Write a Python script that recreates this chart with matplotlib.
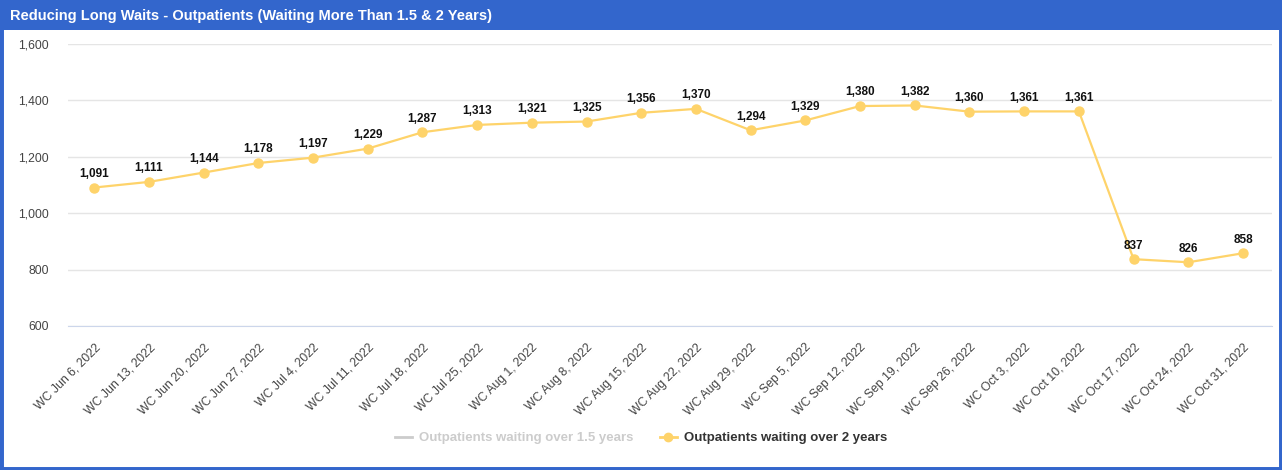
import numpy as np
import matplotlib.pyplot as plt
from matplotlib.patches import Rectangle
from matplotlib.lines import Line2D

plt.rcParams['font.family'] = ['Liberation Sans', 'DejaVu Sans']

weeks = ['WC Jun 6, 2022', 'WC Jun 13, 2022', 'WC Jun 20, 2022', 'WC Jun 27, 2022',
         'WC Jul 4, 2022', 'WC Jul 11, 2022', 'WC Jul 18, 2022', 'WC Jul 25, 2022',
         'WC Aug 1, 2022', 'WC Aug 8, 2022', 'WC Aug 15, 2022', 'WC Aug 22, 2022',
         'WC Aug 29, 2022', 'WC Sep 5, 2022', 'WC Sep 12, 2022', 'WC Sep 19, 2022',
         'WC Sep 26, 2022', 'WC Oct 3, 2022', 'WC Oct 10, 2022', 'WC Oct 17, 2022',
         'WC Oct 24, 2022', 'WC Oct 31, 2022']
over_2y = [1091, 1111, 1144, 1178, 1197, 1229, 1287, 1313, 1321, 1325, 1356,
           1370, 1294, 1329, 1380, 1382, 1360, 1361, 1361, 837, 826, 858]
yticks = [600, 800, 1000, 1200, 1400, 1600]

blue = '#3366cc'
yellow = '#fed36a'

fig = plt.figure(figsize=(12.82, 4.70), dpi=100)

# frame + title bar
fig.patches.append(Rectangle((0, 0), 1, 1, transform=fig.transFigure, fill=False,
                             edgecolor=blue, linewidth=5, zorder=10))
fig.patches.append(Rectangle((0, 1 - 30 / 470), 1, 30 / 470, transform=fig.transFigure,
                             facecolor=blue, edgecolor='none', zorder=9))
fig.text(10 / 1282, 1 - 16 / 470, 'Reducing Long Waits - Outpatients (Waiting More Than 1.5 & 2 Years)',
         color='white', fontsize=10.5, fontweight='bold', va='center', ha='left', zorder=11)

ax = fig.add_axes([68 / 1282, 1 - 326 / 470, (1272 - 68) / 1282, (326 - 44) / 470])
x = np.arange(len(weeks))
ax.plot(x, over_2y, color=yellow, linewidth=1.6, marker='o', markersize=6.5, zorder=3)
for xi, v in zip(x, over_2y):
    ax.annotate(f'{v:,}', (xi, v), xytext=(0, 5.5), textcoords='offset points',
                ha='center', va='bottom', fontsize=8.5, fontweight='bold', color='#111111')

ax.set_xlim(-0.48, len(weeks) - 0.47)
ax.set_ylim(600, 1600)
ax.set_yticks(yticks)
ax.set_yticklabels([f'{t:,}' for t in yticks])
ax.set_xticks(x)
ax.set_xticklabels(weeks, rotation=45, ha='right', rotation_mode='anchor')
ax.tick_params(axis='both', length=0, labelsize=8.8, labelcolor='#444444')
ax.tick_params(axis='y', pad=14)
ax.tick_params(axis='x', pad=11)
ax.grid(axis='y', color='#e5e5e5', linewidth=1)
for s in ['top', 'right', 'left']:
    ax.spines[s].set_visible(False)
ax.spines['bottom'].set_color('#ccd6eb')
ax.set_axisbelow(True)

handles = [Line2D([], [], color='#cccccc', linewidth=2),
           Line2D([], [], color=yellow, linewidth=2, marker='o', markersize=6)]
leg = fig.legend(handles, ['Outpatients waiting over 1.5 years', 'Outpatients waiting over 2 years'],
                 loc='center', bbox_to_anchor=(0.5, 1 - 438 / 470), ncol=2, frameon=False,
                 fontsize=9.5, handlelength=1.3, columnspacing=2.0, handletextpad=0.5)
leg.get_texts()[0].set_color('#cccccc')
leg.get_texts()[1].set_color('#333333')
for t in leg.get_texts():
    t.set_fontweight('bold')

fig.savefig('out.png', dpi=100)
